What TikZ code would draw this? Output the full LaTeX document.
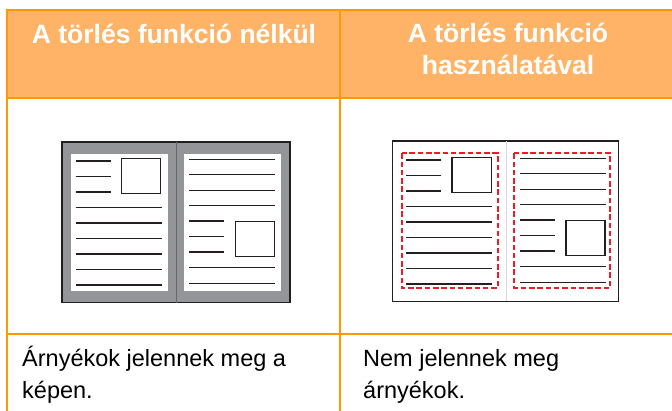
\documentclass[tikz,border=0pt]{standalone}
\usepackage{fontspec}
\setmainfont{Liberation Sans}
\definecolor{frame}{HTML}{FF9900}
\definecolor{headfill}{HTML}{FFB366}
\definecolor{ink}{HTML}{231F20}
\definecolor{shade}{HTML}{939598}
\definecolor{erase}{HTML}{ED1C24}
\tikzset{
  gridline/.style={draw=frame,line width=2.4pt},
  headtxt/.style={font=\fontsize{26.5}{32}\selectfont\bfseries,text=white,anchor=base,inner sep=0pt},
  bodytxt/.style={font=\fontsize{23.5}{32}\selectfont,text=black,anchor=base west,inner sep=0pt},
  txtline/.style={draw=ink,line width=1.4pt},
  picbox/.style={draw=ink,line width=1.4pt},
  sheet/.style={draw=ink,line width=1.5pt},
  erasebox/.style={draw=erase,line width=1.9pt,dash pattern=on 5.5pt off 2.8pt}
}
\begin{document}
\begin{tikzpicture}[x=1pt,y=-1pt]
  \useasboundingbox (0,0) rectangle (672,411);

  % table
  \fill[headfill] (7,10) rectangle (672,98);
  \foreach \y in {10,98,334} {
    \draw[gridline] (5.8,\y) -- (672,\y);
  }
  \foreach \x in {7,340} {
    \draw[gridline] (\x,8.8) -- (\x,411);
  }

  \node[headtxt] (hleft) at (174,44) {A törlés funkció nélkül};
  \node[headtxt] (hright1) at (508,43) {A törlés funkció};
  \node[headtxt] (hright2) at (508,75) {használatával};

  \node[bodytxt] (bleft1) at (22,367) {Árnyékok jelennek meg a};
  \node[bodytxt] (bleft2) at (22,399) {képen.};
  \node[bodytxt] (bright1) at (363,367) {Nem jelennek meg};
  \node[bodytxt] (bright2) at (363,399) {árnyékok.};

  % without erase: shadow round the pages
  \filldraw[fill=shade,sheet] (62,142) rectangle (290,302.7);
  \draw[ink!40!shade,line width=0.4pt] (176,142) -- (176,302.7);
  \fill[white] (71,154) rectangle (168,291);
  \fill[white] (184,154) rectangle (280.7,291);

  % with erase
  \draw[sheet,fill=white] (392.7,141) rectangle (618.7,301.3);
  \draw[black!15,line width=0.4pt] (506,141) -- (506,301.3);
  \draw[erasebox] (401.7,153.3) rectangle (497.7,288);
  \draw[erasebox] (514.3,153.3) rectangle (610.3,288);

  % page contents, same in both pictures
  \foreach \px/\py in {0/0,330.7/-1} {
    \begin{scope}[shift={(\px,\py)}]
      \foreach \y in {161,176.7,192} {
        \draw[txtline] (75.7,\y) -- (110.7,\y);
      }
      \draw[picbox] (121.3,158.7) rectangle (160.7,193.3);
      \foreach \y in {207.3,223,238.3,254,269.3,285} {
        \draw[txtline] (75.7,\y) -- (161.7,\y);
      }
      \foreach \y in {159.3,174.7,190.3,205.7,267.3,283.3} {
        \draw[txtline] (189.3,\y) -- (275.3,\y);
      }
      \foreach \y in {221,236.7,252} {
        \draw[txtline] (189.3,\y) -- (224.3,\y);
      }
      \draw[picbox] (235.3,221.3) rectangle (274.3,256.7);
    \end{scope}
  }
\end{tikzpicture}
\end{document}
